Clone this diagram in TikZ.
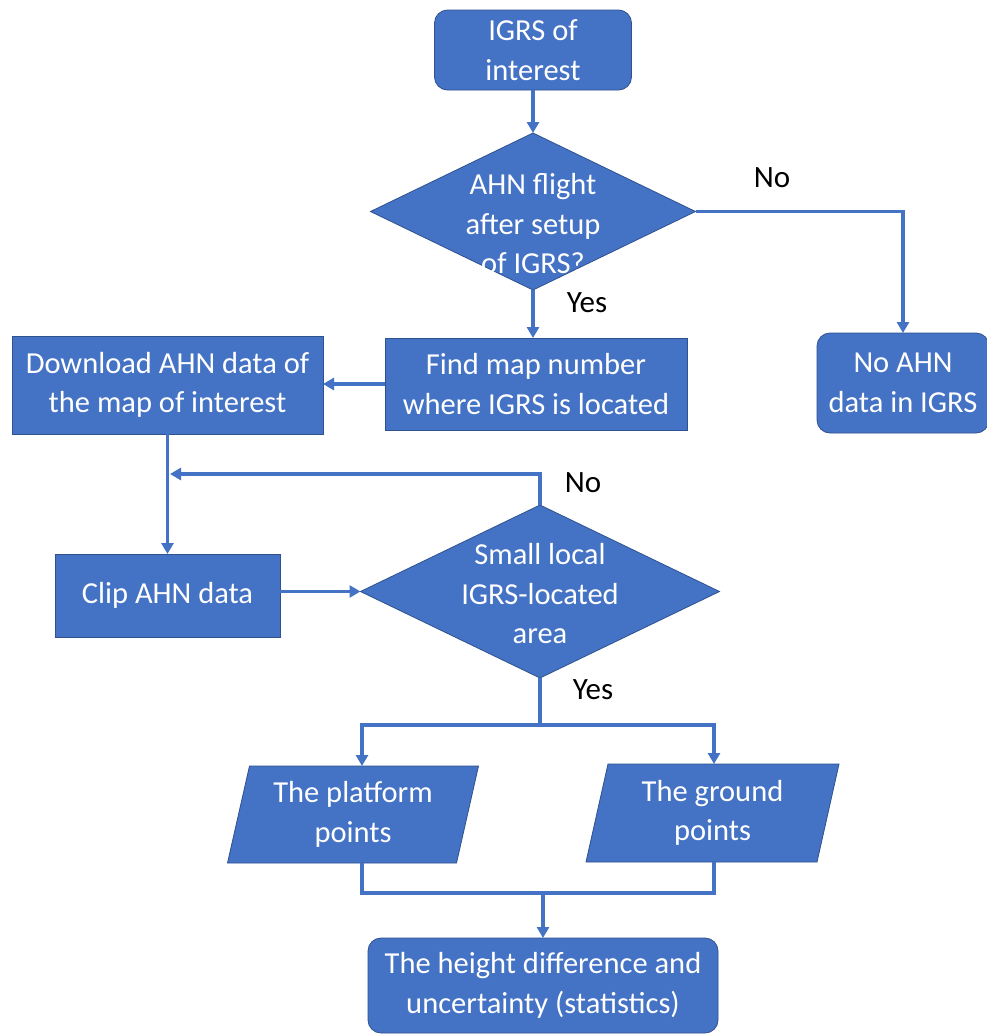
\documentclass[tikz,border=0pt]{standalone}
\usepackage{fontspec}
\setmainfont{Carlito}
\usetikzlibrary{shapes.geometric,arrows.meta,backgrounds}
\definecolor{obl}{HTML}{4472C4}
\definecolor{obd}{HTML}{2F528F}
\begin{document}
\begin{tikzpicture}[x=1pt,y=-1pt,
  txt/.style={text=white, align=center, font=\fontsize{30.5}{39.5}\selectfont, inner sep=0pt, outer sep=0pt},
  box/.style={txt, rectangle, fill=obl, draw=obd, line width=0.8pt},
  rbox/.style={box, rounded corners=13pt},
  dia/.style={diamond, fill=obl, draw=obd, line width=0.8pt, inner sep=0pt, outer sep=0pt, aspect=1},
  lbl/.style={text=black, font=\fontsize{31}{38}\selectfont, inner sep=0pt},
  conn/.style={draw=obl, line width=3.8pt},
  arr/.style={conn, -{Triangle[length=11pt,width=12pt]}},
  para/.style={fill=obl, draw=obd, line width=0.8pt}
]
\useasboundingbox (0,0) rectangle (987,1034);

% nodes
\node[rbox, minimum width=197pt, minimum height=80pt] (top) at (533,50) {IGRS of\\interest};
\node[dia, minimum width=325pt, minimum height=157pt] (d1) at (533,211.5) {};
\node[txt] (d1t) at (533,224) {AHN flight\\after setup\\of IGRS?};
\node[box, minimum width=302pt, minimum height=92pt] (find) at (536,384) {Find map number\\where IGRS is located};
\node[box, minimum width=311pt, minimum height=98pt] (dl) at (167.5,385) {Download AHN data of\\the map of interest};
\node[rbox, minimum width=172pt, minimum height=100pt] (noahn) at (903,383) {No AHN\\data in IGRS};
\node[box, minimum width=225pt, minimum height=83pt] (clip) at (167.5,595.5) {Clip AHN data};
\node[dia, minimum width=359pt, minimum height=173pt] (d2) at (540,591.5) {};
\node[txt] (d2t) at (540,594) {Small local\\IGRS-located\\area};
\node[txt, minimum width=229pt, minimum height=97pt] (plat) at (353,814.5) {The platform\\points};
\node[txt, minimum width=231pt, minimum height=98pt] (grd) at (712.5,813) {The ground\\points};
\node[rbox, minimum width=350pt, minimum height=95pt] (bot) at (543,985.5) {The height difference and\\uncertainty (statistics)};

\begin{pgfonlayer}{background}
\fill[white] (0,0) rectangle (987,1034);
\path[para] ([xshift=11pt]plat.north west) -- ([xshift=11pt]plat.north east) -- ([xshift=-11pt]plat.south east) -- ([xshift=-11pt]plat.south west) -- cycle;
\path[para] ([xshift=11pt]grd.north west) -- ([xshift=11pt]grd.north east) -- ([xshift=-11pt]grd.south east) -- ([xshift=-11pt]grd.south west) -- cycle;
\end{pgfonlayer}

% labels
\node[lbl] (no1) at (772,178) {No};
\node[lbl] (yes1) at (587,303) {Yes};
\node[lbl] (no2) at (583,483) {No};
\node[lbl] (yes2) at (593,690) {Yes};

% helper coordinates
\coordinate (loop) at (170,474);
\coordinate (sp) at (540,725);
\coordinate (platin) at (362,766);
\coordinate (grin) at (714,764);
\coordinate (platout) at (362,863);
\coordinate (grout) at (714,862);
\coordinate (mg) at (543,893);

% connectors
\draw[arr] (top.south) -- (d1.north);
\draw[arr] (d1.east) -| (noahn.north);
\draw[arr] (d1.south) -- (d1.south |- find.north);
\draw[arr] (find.west) -- (find.west -| dl.east);
\draw[arr] (dl.south) -- (clip.north);
\draw[arr] (d2.north) |- (loop);
\draw[arr] (clip.east |- d2.west) -- (d2.west);
\draw[conn] (d2.south) -- (sp);
\draw[arr] (sp) -| (platin);
\draw[arr] (sp) -| (grin);
\draw[conn] (platout) |- (mg) -| (grout);
\draw[arr] (mg) -- (bot.north);
\end{tikzpicture}
\end{document}
